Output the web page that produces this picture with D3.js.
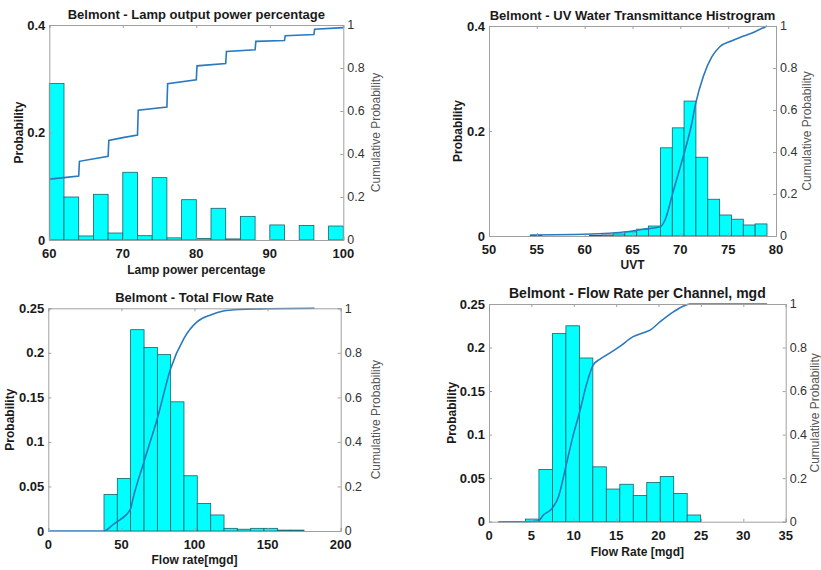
<!DOCTYPE html>
<html>
<head>
<meta charset="utf-8">
<script src="https://cdn.jsdelivr.net/npm/d3@7"></script>
<style>
  html, body { margin: 0; padding: 0; background: #fff; }
  svg { display: block; font-family: "Liberation Sans", Arial, Helvetica, sans-serif; }
</style>
</head>
<body>
<svg id="chart" width="821" height="570"></svg>
<script>
// ---------- Panel 1: Lamp output power percentage ----------
const lampEdges = [60,62,64,66,68,70,72,74,76,78,80,82,84,86,88,90,92,94,96,98,100];
const lampProb  = [0.291,0.080,0.0075,0.085,0.013,0.126,0.008,0.116,0.004,0.075,0.003,0.059,0.002,0.044,0,0.028,0,0.027,0,0.026];
const lampCdfX  = [60,62,64,64.1,68,68.1,70,72,72.1,76,76.1,80,80.1,84,84.1,88,88.1,92,92.1,96,96.1,100];
const lampCdfY  = [0.283,0.29,0.298,0.366,0.389,0.463,0.476,0.488,0.604,0.618,0.727,0.745,0.81,0.821,0.877,0.885,0.924,0.928,0.95,0.956,0.98,0.988];
const lampXTicks = [60,70,80,90,100];
const lampYTicks = [0,0.2,0.4];

// ---------- Panel 2: UV Water Transmittance ----------
const uvtEdges = [54.30,55.54,56.78,58.01,59.25,60.49,61.73,62.97,64.20,65.44,66.68,67.92,69.16,70.39,71.63,72.87,74.11,75.35,76.58,77.82,79.06];
const uvtProb  = [0.001,0,0,0,0,0.001,0.002,0.004,0.008,0.013,0.019,0.168,0.206,0.257,0.150,0.070,0.040,0.032,0.021,0.023];
const uvtCdfX  = [54.3,60,62.6,64.4,66.1,67.9,68.4,69.2,70,70.4,71.2,71.6,72.4,73.3,74.1,75.4,76.6,77.8,79.06];
const uvtCdfY  = [0.005,0.008,0.013,0.02,0.032,0.044,0.076,0.203,0.33,0.394,0.537,0.63,0.76,0.854,0.90,0.93,0.952,0.973,1.0];
const uvtXTicks = [50,55,60,65,70,75,80];
const uvtYTicks = [0,0.2,0.4];

// ---------- Panel 3: Total Flow Rate ----------
const flowEdges = [38.1,47.2,56.3,65.5,74.6,83.7,92.8,101.9,111.1,120.2,129.3,138.4,147.5,156.7,165.8,174.9];
const flowProb  = [0.041,0.059,0.226,0.206,0.198,0.145,0.062,0.031,0.018,0.003,0.002,0.003,0.003,0.001,0.001];
const flowCdfX  = [1,38,44.5,49,56.3,58,65.4,74.6,83.7,92.8,101.9,111,119.7,131,149,182];
const flowCdfY  = [0,0,0.03,0.05,0.10,0.147,0.31,0.506,0.73,0.865,0.94,0.97,0.988,0.995,0.998,1];
const flowXTicks = [0,50,100,150,200];
const flowYTicks = [0,0.05,0.1,0.15,0.2,0.25];

// ---------- Panel 4: Flow Rate per Channel ----------
const chanEdges = [4.3,5.89,7.48,9.07,10.66,12.25,13.84,15.43,17.02,18.61,20.2,21.79,23.38,24.97];
const chanProb  = [0.003,0.060,0.216,0.225,0.188,0.063,0.0375,0.043,0.030,0.045,0.052,0.0325,0.0077];
const chanCdfX  = [1.1,4.3,5.8,6.4,7.5,8.2,9.1,9.95,10.7,11.5,12.3,13.1,13.9,15.4,17.0,18.2,19.0,20.2,21.8,22.9,23.7,32.8];
const chanCdfY  = [0,0,0.003,0.03,0.064,0.115,0.26,0.40,0.505,0.63,0.72,0.747,0.766,0.804,0.85,0.868,0.88,0.919,0.965,0.99,1.0,1.0];
const chanXTicks = [0,5,10,15,20,25,30,35];
const chanYTicks = [0,0.05,0.1,0.15,0.2,0.25];

const cdfTicks = [0,0.2,0.4,0.6,0.8,1];

const panels = [
  { title: "Belmont - Lamp output power percentage", titleSize: 13, xlabel: "Lamp power percentage",
    box: [49.3, 25, 343.3, 240], xDomain: [60,100], yDomain: [0,0.4], smooth: false,
    edges: lampEdges, prob: lampProb, cdfX: lampCdfX, cdfY: lampCdfY, xTicks: lampXTicks, yTicks: lampYTicks,
    ylabX: 19, y2labX: 376, xlabY: 274 },
  { title: "Belmont - UV Water Transmittance Histrogram", titleSize: 13, xlabel: "UVT",
    box: [489, 26, 776, 236], xDomain: [50,80], yDomain: [0,0.4], smooth: true,
    edges: uvtEdges, prob: uvtProb, cdfX: uvtCdfX, cdfY: uvtCdfY, xTicks: uvtXTicks, yTicks: uvtYTicks,
    ylabX: 458, y2labX: 807, xlabY: 269 },
  { title: "Belmont - Total Flow Rate", titleSize: 13, xlabel: "Flow rate[mgd]",
    box: [48.3, 308.3, 340.7, 531], xDomain: [0,200], yDomain: [0,0.25], smooth: true,
    edges: flowEdges, prob: flowProb, cdfX: flowCdfX, cdfY: flowCdfY, xTicks: flowXTicks, yTicks: flowYTicks,
    ylabX: 10, y2labX: 376, xlabY: 564 },
  { title: "Belmont - Flow Rate per Channel, mgd", titleSize: 14, xlabel: "Flow Rate [mgd]",
    box: [489, 304, 785.7, 521.7], xDomain: [0,35], yDomain: [0,0.25], smooth: true,
    edges: chanEdges, prob: chanProb, cdfX: chanCdfX, cdfY: chanCdfY, xTicks: chanXTicks, yTicks: chanYTicks,
    ylabX: 452, y2labX: 815, xlabY: 556 }
];

const svg = d3.select("#chart");
const fmt = v => (v === 0 ? "0" : (v === 1 ? "1" : String(+v.toFixed(2))));

panels.forEach(p => {
  const [x0, y0, x1, y1] = p.box;
  const x = d3.scaleLinear().domain(p.xDomain).range([x0, x1]);
  const y = d3.scaleLinear().domain(p.yDomain).range([y1, y0]);
  const y2 = d3.scaleLinear().domain([0,1]).range([y1, y0]);
  const g = svg.append("g");

  // bars
  const bins = p.prob.map((v, i) => ({ a: p.edges[i], b: p.edges[i+1], v }));
  g.append("g").selectAll("rect").data(bins).join("rect")
    .attr("x", d => x(d.a))
    .attr("y", d => y(d.v))
    .attr("width", d => x(d.b) - x(d.a))
    .attr("height", d => y(0) - y(d.v))
    .attr("fill", "#00ffff")
    .attr("stroke", "#1d5f66")
    .attr("stroke-width", 0.8);

  // cdf line
  const pts = p.cdfX.map((v, i) => [v, p.cdfY[i]]);
  const line = d3.line().x(d => x(d[0])).y(d => y2(d[1]));
  if (p.smooth) line.curve(d3.curveMonotoneX);
  g.append("path").datum(pts)
    .attr("fill", "none")
    .attr("stroke", "#2a78bf")
    .attr("stroke-width", 1.6)
    .attr("d", line);

  // axes (box + inward ticks)
  const axColor = "#a0a0a0";
  const left = g.append("g").attr("transform", `translate(${x0},0)`)
    .call(d3.axisRight(y).tickValues(p.yTicks).tickSize(3).tickFormat(""));
  const right = g.append("g").attr("transform", `translate(${x1},0)`)
    .call(d3.axisLeft(y2).tickValues(cdfTicks).tickSize(3).tickFormat(""));
  const bottom = g.append("g").attr("transform", `translate(0,${y1})`)
    .call(d3.axisTop(x).tickValues(p.xTicks).tickSize(3).tickFormat(""));
  const top = g.append("g").attr("transform", `translate(0,${y0})`)
    .call(d3.axisBottom(x).tickValues(p.xTicks).tickSize(3).tickFormat(""));
  [left, right, bottom, top].forEach(a => {
    a.selectAll("path").attr("stroke", axColor).attr("stroke-width", 1);
    a.selectAll("line").attr("stroke", axColor).attr("stroke-width", 1);
  });

  // left tick labels
  g.append("g").selectAll("text").data(p.yTicks).join("text")
    .attr("x", x0 - 4).attr("y", d => y(d)).attr("dy", "0.35em")
    .attr("text-anchor", "end").attr("font-size", 13).attr("font-weight", "bold").attr("fill", "#1a1a1a")
    .text(fmt);
  // right tick labels
  g.append("g").selectAll("text").data(cdfTicks).join("text")
    .attr("x", x1 + 4).attr("y", d => y2(d)).attr("dy", "0.35em")
    .attr("text-anchor", "start").attr("font-size", 12.5).attr("fill", "#333")
    .text(fmt);
  // bottom tick labels
  g.append("g").selectAll("text").data(p.xTicks).join("text")
    .attr("x", d => x(d)).attr("y", y1 + 18)
    .attr("text-anchor", "middle").attr("font-size", 13).attr("font-weight", "bold").attr("fill", "#1a1a1a")
    .text(d => String(d));

  // title
  g.append("text").attr("x", (x0 + x1) / 2).attr("y", y0 - 6)
    .attr("text-anchor", "middle").attr("font-size", p.titleSize).attr("font-weight", "bold").attr("fill", "#1a1a1a")
    .text(p.title);
  // x label
  g.append("text").attr("x", (x0 + x1) / 2).attr("y", p.xlabY)
    .attr("text-anchor", "middle").attr("font-size", 12).attr("font-weight", "bold").attr("fill", "#1a1a1a")
    .text(p.xlabel);
  // y labels
  const cy = (y0 + y1) / 2;
  g.append("text").attr("transform", `translate(${p.ylabX},${cy}) rotate(-90)`)
    .attr("text-anchor", "middle").attr("dy", "0.35em").attr("font-size", 12).attr("font-weight", "bold").attr("fill", "#1a1a1a")
    .text("Probability");
  g.append("text").attr("transform", `translate(${p.y2labX},${cy}) rotate(-90)`)
    .attr("text-anchor", "middle").attr("dy", "0.35em").attr("font-size", 12).attr("fill", "#555")
    .text("Cumulative Probability");
});
</script>
</body>
</html>
